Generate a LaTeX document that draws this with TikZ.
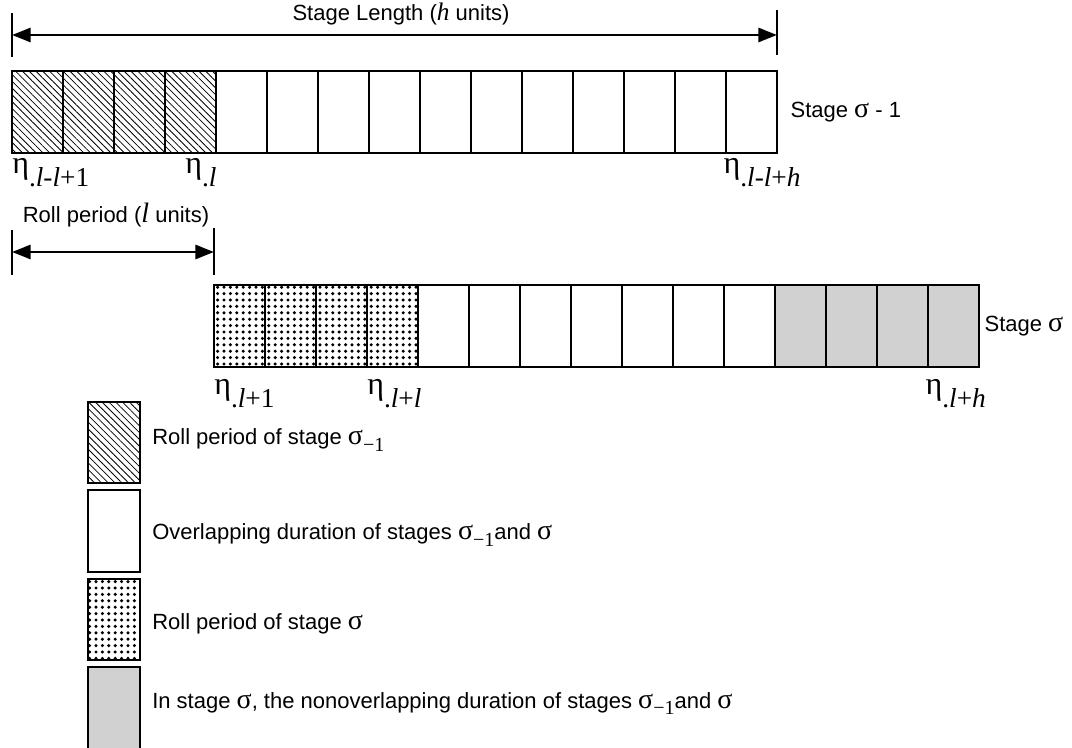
\documentclass[tikz,border=0pt]{standalone}
\usepackage{fontspec}
\setmainfont{Liberation Sans}
\newfontfamily\serif{Liberation Serif}
\usepackage{tikz}
\usetikzlibrary{
	arrows.meta,
	positioning,
	patterns.meta
}

\newcommand{\etalab}[1]{{\serif\fontsize{24}{24}\selectfont η}\raisebox{-9.5pt}{\serif\fontsize{20.5}{20.5}\selectfont #1}}
\newcommand{\sig}{{\serif\fontsize{21}{21}\selectfont σ}}
\newcommand{\sigsub}{\sig\raisebox{-0.6ex}{\serif\fontsize{15}{15}\selectfont −1}}

\tikzset{
	cell/.style={draw, line width=1.3pt, inner sep=0pt, outer sep=0pt,
		minimum width=38.25pt, minimum height=61.5pt},
	hatchcell/.style={cell, pattern={Lines[angle=-45,distance=3.6pt,line width=0.6pt]}},
	dotcell/.style={cell, pattern={Dots[distance=4.8pt,radius=1.3pt]}},
	greycell/.style={cell, fill=black!18},
	plaincell/.style={cell, fill=white},
	keybox/.style={cell, minimum width=39pt, minimum height=61pt},
	dimline/.style={line width=2.2pt,
		{Triangle[length=14pt,width=10.5pt]}-{Triangle[length=14pt,width=10.5pt]}},
	tickline/.style={line width=1.1pt},
	lbl/.style={font=\fontsize{16.5}{19}\selectfont, inner sep=0pt},
	etalbl/.style={anchor=base west, inner sep=0pt}
}

\begin{document}
\begin{tikzpicture}[x=0.75pt,y=-0.75pt]
	\useasboundingbox (0,0) rectangle (1072,748);
	
	% Stage sigma-1
	\foreach \i in {1,...,4}
		\node[hatchcell] (top\i) at ({12+51*(\i-0.5)},112) {};
	\foreach \i in {5,...,15}
		\node[plaincell] (top\i) at ({12+51*(\i-0.5)},112) {};
	\node[lbl, right=10pt of top15] (stageA) {Stage \sig\ - 1};
	
	% Stage sigma
	\foreach \i in {1,...,4}
		\node[dotcell] (bot\i) at ({214+51*(\i-0.5)},326) {};
	\foreach \i in {5,...,11}
		\node[plaincell] (bot\i) at ({214+51*(\i-0.5)},326) {};
	\foreach \i in {12,...,15}
		\node[greycell] (bot\i) at ({214+51*(\i-0.5)},326) {};
	\node[lbl, right=4pt of bot15] (stageB) {Stage \sig};
	
	% eta labels
	\node[etalbl] (etaA) at ([yshift=-15.5pt]top1.south west) {\etalab{.\textit{l}-\textit{l}+1}};
	\node[etalbl] (etaB) at ([xshift=15pt,yshift=-15.5pt]top4.south west) {\etalab{.\textit{l}}};
	\node[etalbl] (etaC) at ([xshift=-2pt,yshift=-15.5pt]top15.south west) {\etalab{.\textit{l}-\textit{l}+\textit{h}}};
	\node[etalbl] (etaD) at ([yshift=-21pt]bot1.south west) {\etalab{.\textit{l}+1}};
	\node[etalbl] (etaE) at ([yshift=-21pt]bot4.south west) {\etalab{.\textit{l}+\textit{l}}};
	\node[etalbl] (etaF) at ([xshift=-2pt,yshift=-21pt]bot15.south west) {\etalab{.\textit{l}+\textit{h}}};
	
	% Stage length
	\draw[tickline] (12,13) -- (12,57);
	\draw[tickline] (777,10) -- (777,55);
	\coordinate (lenL) at (12,35);
	\coordinate (lenR) at (777,35);
	\draw[dimline] (lenL) -- (lenR);
	\node[lbl, anchor=base] (lenText) at (401,21) {Stage Length ({\serif\itshape\fontsize{19}{19}\selectfont h} units)};
	
	% Roll period
	\draw[tickline] (12,230) -- (12,275);
	\draw[tickline] (214,228) -- (214,275);
	\coordinate (rollL) at (12,252);
	\coordinate (rollR) at (214,252);
	\draw[dimline] (rollL) -- (rollR);
	\node[lbl, anchor=base] (rollText) at (116,223) {Roll period ({\serif\itshape\fontsize{21}{21}\selectfont l} units)};
	
	% Legend
	\node[keybox, pattern={Lines[angle=-45,distance=3.6pt,line width=0.6pt]}] (key1) at (114,442.5) {};
	\node[keybox, fill=white] (key2) at (114,531) {};
	\node[keybox, pattern={Dots[distance=4.8pt,radius=1.3pt]}] (key3) at (114,619.5) {};
	\node[keybox, fill=black!18] (key4) at (114,708) {};
	
	\node[lbl, anchor=base west] (keyText1) at (152,445) {Roll period of stage \sigsub};
	\node[lbl, anchor=base west] (keyText2) at (152,540) {Overlapping duration of stages \sigsub and \sig};
	\node[lbl, anchor=base west] (keyText3) at (152,629) {Roll period of stage \sig};
	\node[lbl, anchor=base west] (keyText4) at (152,708) {In stage \sig, the nonoverlapping duration of stages \sigsub and \sig};
	
\end{tikzpicture}
\end{document}
